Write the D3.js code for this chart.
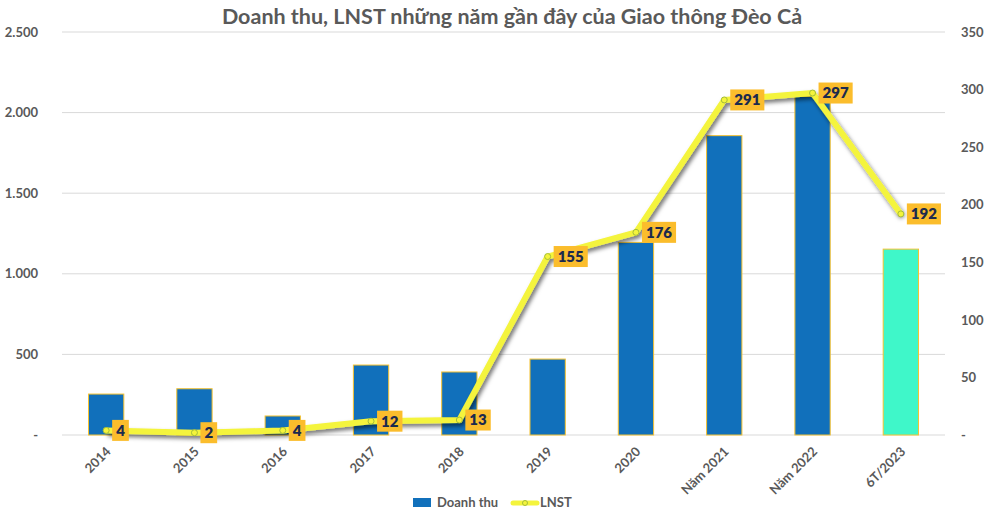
<!DOCTYPE html>
<html><head><meta charset="utf-8">
<script src="https://cdn.jsdelivr.net/npm/d3@7"></script>
<style>body{margin:0;background:#fff}svg{display:block;font-family:Lato,"Open Sans",sans-serif}</style>
</head><body><svg id="c" width="1000" height="516"></svg>
<script>
const categories = ["2014","2015","2016","2017","2018","2019","2020","Năm 2021","Năm 2022","6T/2023"];
const revenue = [254, 287, 118, 434, 391, 471, 1195, 1857, 2100, 1153];
const profit = [4, 2, 4, 12, 13, 155, 176, 291, 297, 192];
const leftTicks = [0, 500, 1000, 1500, 2000, 2500];
const rightTicks = [0, 50, 100, 150, 200, 250, 300, 350];
const title = "Doanh thu, LNST những năm gần đây của Giao thông Đèo Cả";

const svg = d3.select("#c");
const x = d3.scaleBand().domain(categories).range([62, 945]).paddingInner(0.6).paddingOuter(0.3);
const yL = d3.scaleLinear().domain([0, 2500]).range([435, 32]);
const yR = d3.scaleLinear().domain([0, 350]).range([435, 32]);
const fmt = v => v === 0 ? "-" : d3.format(",")(v).replace(/,/g, ".");

const defs = svg.append("defs");
const f = defs.append("filter").attr("id","sh").attr("x","-10%").attr("y","-10%").attr("width","120%").attr("height","130%");
f.append("feDropShadow").attr("dx",2).attr("dy",3).attr("stdDeviation",2).attr("flood-color","#000").attr("flood-opacity",0.55);

svg.append("text").attr("x", 512).attr("y", 24).attr("text-anchor","middle")
  .attr("font-size", 21.5).attr("font-weight", 700).attr("fill", "#595959").text(title);

// gridlines
svg.append("g").selectAll("line").data(leftTicks).join("line")
  .attr("x1", 62).attr("x2", 945).attr("y1", d => yL(d)).attr("y2", d => yL(d))
  .attr("stroke", "#d9d9d9").attr("stroke-width", 1);

// left axis
const gl = svg.append("g").attr("transform","translate(38,0)")
  .call(d3.axisLeft(yL).tickValues(leftTicks).tickFormat(fmt).tickSize(0).tickPadding(0));
gl.select(".domain").remove();
gl.selectAll("text").attr("font-size", 13).attr("font-weight", 700).attr("fill", "#595959").attr("font-family","Lato");

// right axis
const gr = svg.append("g").attr("transform","translate(961,0)")
  .call(d3.axisRight(yR).tickValues(rightTicks).tickFormat(fmt).tickSize(0).tickPadding(0));
gr.select(".domain").remove();
gr.selectAll("text").attr("font-size", 13).attr("font-weight", 700).attr("fill", "#595959").attr("font-family","Lato");

// bars
svg.append("g").selectAll("rect").data(categories).join("rect")
  .attr("x", d => x(d)).attr("width", x.bandwidth())
  .attr("y", (d,i) => yL(revenue[i])).attr("height", (d,i) => yL(0) - yL(revenue[i]))
  .attr("fill", (d,i) => i === categories.length - 1 ? "#3ff7c9" : "#1170bb")
  .attr("stroke", "#f6c230").attr("stroke-width", 1);

// x axis labels
const gx = svg.append("g").attr("transform","translate(0,441)")
  .call(d3.axisBottom(x).tickSize(0).tickPadding(0));
gx.select(".domain").remove();
gx.selectAll("text").attr("font-size", 13).attr("font-weight", 700).attr("fill", "#595959").attr("font-family","Lato")
  .attr("text-anchor","end").attr("dy", "0.7em").attr("dx", 0)
  .attr("transform", "translate(-1,5) rotate(-45)");

// line
const cx = d => x(d) + x.bandwidth()/2;
const line = d3.line().x((d,i) => cx(categories[i])).y(d => yR(d));
svg.append("path").datum(profit).attr("d", line).attr("fill","none")
  .attr("stroke","#f4f43c").attr("stroke-width",6).attr("stroke-linejoin","round")
  .attr("filter","url(#sh)");
svg.append("g").selectAll("circle").data(profit).join("circle")
  .attr("cx", (d,i) => cx(categories[i])).attr("cy", d => yR(d)).attr("r", 3)
  .attr("fill", "#f4f43c").attr("stroke", "#a4bd3a").attr("stroke-width", 1);

// labels
const lg = svg.append("g").selectAll("g").data(profit).join("g")
  .attr("transform", (d,i) => `translate(${cx(categories[i]) + 6},${yR(d)})`);
lg.each(function(d){
  const g = d3.select(this);
  const t = g.append("text").attr("x", 4).attr("y", 0).attr("dy","0.36em")
    .attr("font-size", 15).attr("font-weight", 800).attr("fill", "#1c2a4e").attr("font-family","Lato").text(d);
  const w = t.node().getComputedTextLength();
  g.insert("rect","text").attr("x",0).attr("y",-10.5).attr("width", w + 8).attr("height", 21).attr("fill","#fbbd2c");
});

// legend
const leg = svg.append("g");
leg.append("rect").attr("x",413).attr("y",498).attr("width",18).attr("height",9).attr("fill","#1170bb");
leg.append("text").attr("x",437).attr("y",507).attr("font-size",13).attr("font-weight",700).attr("fill","#595959").text("Doanh thu");
leg.append("line").attr("x1",513).attr("x2",537).attr("y1",503).attr("y2",503).attr("stroke","#f4f43c").attr("stroke-width",5).attr("stroke-linecap","round");
leg.append("circle").attr("cx",525).attr("cy",503).attr("r",2.5).attr("fill","#f4f43c").attr("stroke","#a4bd3a");
leg.append("text").attr("x",540).attr("y",507).attr("font-size",13).attr("font-weight",700).attr("fill","#595959").text("LNST");
</script></body></html>
